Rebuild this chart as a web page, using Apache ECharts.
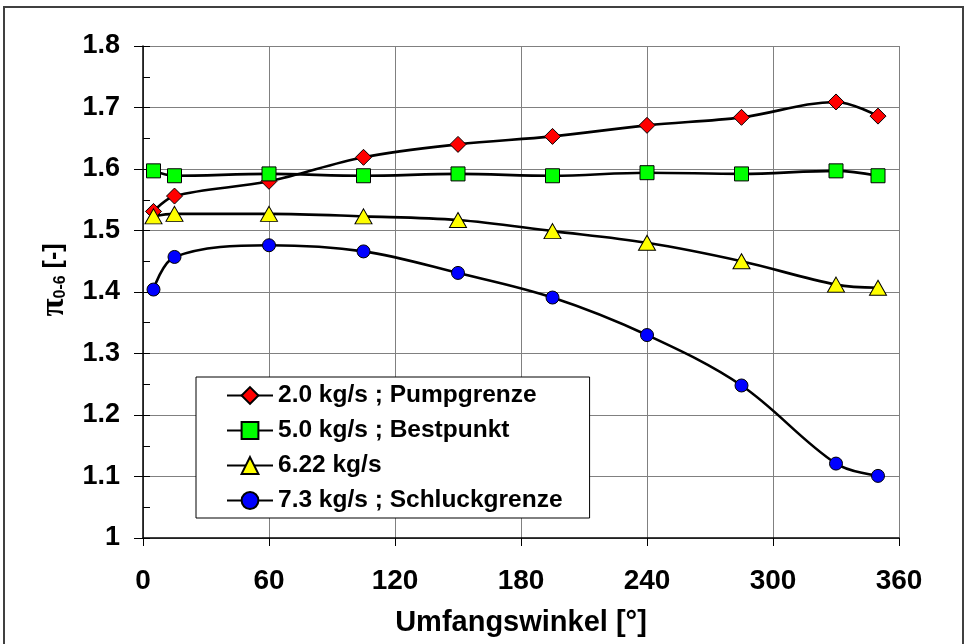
<!DOCTYPE html>
<html>
<head>
<meta charset="utf-8">
<script src="https://cdn.jsdelivr.net/npm/echarts@6/dist/echarts.min.js"></script>
<style>
  html, body { margin: 0; padding: 0; background: #fff; }
  #chart { width: 967px; height: 644px; }
</style>
</head>
<body>
<div id="chart"></div>
<script>
// Circumferential angle of the measuring positions [deg]
const angles = [5, 15, 60, 105, 150, 195, 240, 285, 330, 350];

// Total pressure ratio pi_0-6 at each position, one array per operating point
const pumpgrenze   = [1.531, 1.556, 1.580, 1.619, 1.640, 1.653, 1.671, 1.684, 1.709, 1.686];
const bestpunkt    = [1.597, 1.589, 1.592, 1.589, 1.592, 1.589, 1.594, 1.592, 1.597, 1.589];
const mittel       = [1.523, 1.527, 1.527, 1.523, 1.517, 1.499, 1.480, 1.450, 1.412, 1.407];
const schluckgrenze= [1.404, 1.457, 1.476, 1.466, 1.431, 1.391, 1.330, 1.248, 1.121, 1.101];

const seriesNames = [
  '2.0 kg/s ; Pumpgrenze',
  '5.0 kg/s ; Bestpunkt',
  '6.22 kg/s',
  '7.3 kg/s ; Schluckgrenze'
];

const xTicks = [0, 60, 120, 180, 240, 300, 360];
const yTicks = [1, 1.1, 1.2, 1.3, 1.4, 1.5, 1.6, 1.7, 1.8];

const FONT = '"Liberation Sans", Arial, sans-serif';

function pairs(values) {
  return angles.map((a, i) => [a, values[i]]);
}

function lineSeries(name, values, symbol, size, color) {
  return {
    name: name,
    type: 'line',
    data: pairs(values),
    smooth: 0.35,
    symbol: symbol,
    symbolSize: size,
    showAllSymbol: true,
    lineStyle: { color: '#000', width: 2.6 },
    itemStyle: { color: color, borderColor: '#000', borderWidth: 1 },
    emphasis: { disabled: true },
    animation: false
  };
}

const chart = echarts.init(document.getElementById('chart'), null, { renderer: 'canvas' });

chart.setOption({
  backgroundColor: '#fff',
  animation: false,
  grid: { left: 143, right: 68, top: 46, bottom: 106, containLabel: false },
  xAxis: {
    type: 'value',
    min: xTicks[0],
    max: xTicks[xTicks.length - 1],
    interval: 60,
    name: 'Umfangswinkel [°]',
    nameLocation: 'middle',
    nameGap: 70,
    nameTextStyle: { fontFamily: FONT, fontWeight: 'bold', fontSize: 29, color: '#000' },
    axisLine: { show: true, lineStyle: { color: '#000', width: 1.5 } },
    axisTick: { show: true, inside: false, length: 8, lineStyle: { color: '#000', width: 1 } },
    axisLabel: {
      margin: 29,
      fontFamily: FONT, fontWeight: 'bold', fontSize: 28, color: '#000',
      formatter: v => xTicks.includes(v) ? String(v) : ''
    },
    splitLine: { show: true, lineStyle: { color: '#808080', width: 1 } }
  },
  yAxis: [{
    type: 'value',
    min: yTicks[0],
    max: yTicks[yTicks.length - 1],
    interval: 0.1,
    axisLine: { show: true, lineStyle: { color: '#000', width: 1.5 } },
    axisTick: { show: true, inside: false, length: 9, lineStyle: { color: '#000', width: 1 } },
    axisLabel: {
      margin: 23,
      fontFamily: FONT, fontWeight: 'bold', fontSize: 27, color: '#000',
      formatter: v => String(Math.round(v * 10) / 10)
    },
    splitLine: { show: true, lineStyle: { color: '#808080', width: 1 } }
  }, {
    // minor ticks pointing into the plot area
    type: 'value',
    position: 'left',
    min: yTicks[0],
    max: yTicks[yTicks.length - 1],
    interval: 0.05,
    axisLine: { show: false },
    axisTick: { show: true, inside: true, length: 7, lineStyle: { color: '#000', width: 1 } },
    axisLabel: { show: false },
    splitLine: { show: false }
  }],
  legend: {
    orient: 'vertical',
    left: 196,
    top: 377,
    padding: [6, 27, 5, 30],
    itemGap: 10,
    itemWidth: 46,
    itemHeight: 21,
    backgroundColor: '#fff',
    borderColor: '#000',
    borderWidth: 1,
    borderRadius: 0,
    textStyle: { fontFamily: FONT, fontWeight: 'bold', fontSize: 24.5, lineHeight: 24, color: '#000' },
    data: seriesNames
  },
  graphic: [
    {
      type: 'rect',
      silent: true,
      shape: { x: 4, y: 7, width: 959, height: 660 },
      style: { fill: 'none', stroke: '#404040', lineWidth: 2 },
      z: 100
    },
    {
      type: 'text',
      silent: true,
      x: 54,
      y: 280,
      rotation: Math.PI / 2,
      style: {
        text: '{pi|π}{sub|0-6}{b| [-]}',
        align: 'center',
        verticalAlign: 'middle',
        rich: {
          pi: { fontFamily: '"Liberation Serif", "Times New Roman", serif', fontWeight: 'bold', fontSize: 33, lineHeight: 30, fill: '#000' },
          sub: { fontFamily: FONT, fontWeight: 'bold', fontSize: 16, lineHeight: 18, verticalAlign: 'bottom', fill: '#000' },
          b: { fontFamily: FONT, fontWeight: 'bold', fontSize: 25, lineHeight: 30, fill: '#000' }
        }
      }
    }
  ],
  series: [
    lineSeries(seriesNames[0], pumpgrenze, 'diamond', [16, 16], '#ff0000'),
    lineSeries(seriesNames[1], bestpunkt, 'rect', 14, '#00ff00'),
    lineSeries(seriesNames[2], mittel, 'triangle', [17, 15], '#ffff00'),
    lineSeries(seriesNames[3], schluckgrenze, 'circle', 13, '#0000ff')
  ]
});
</script>
</body>
</html>
